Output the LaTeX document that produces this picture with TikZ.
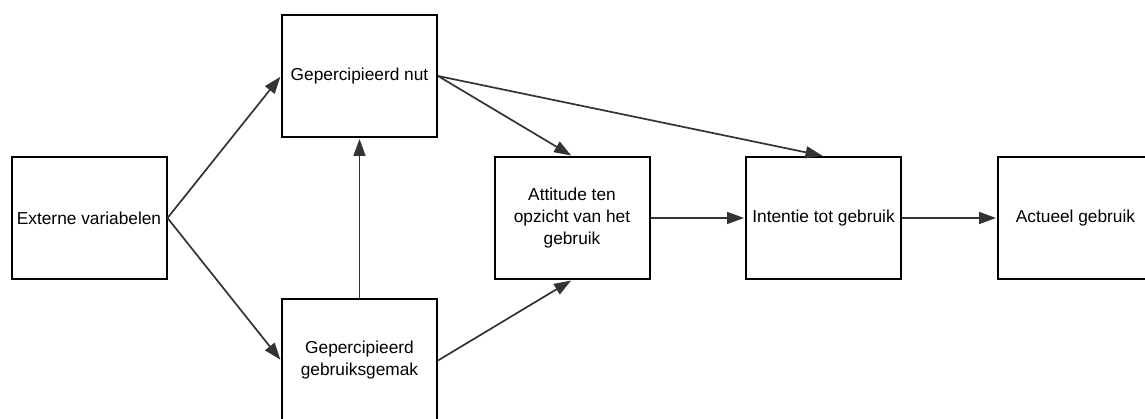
\documentclass[tikz,border=0pt]{standalone}
\usepackage{fontspec}
\setmainfont{Liberation Sans}
\usetikzlibrary{arrows.meta}
\definecolor{edge}{HTML}{333333}
\begin{document}
\begin{tikzpicture}[x=1pt,y=1pt,
  box/.style={draw=black, line width=2pt, fill=white, minimum width=155pt,
    minimum height=122pt, inner sep=0pt, align=center,
    font=\fontsize{17.3}{22}\selectfont},
  link/.style={draw=edge, line width=1.7pt, shorten >=1pt,
    -{Triangle[length=17pt,width=12pt]}}]
\useasboundingbox (0,0) rectangle (1145,419);
\clip (0,0) rectangle (1145,419);
\fill[white] (0,0) rectangle (1145,419);

\node[box] (ext) at (89,201) {Externe variabelen};
\node[box] (nut) at (359.5,343) {Gepercipieerd nut};
\node[box] (gem) at (359.5,58.5) {Gepercipieerd\\gebruiksgemak};
\node[box] (att) at (572,201) {Attitude ten\\opzicht van het\\gebruik};
\node[box] (int) at (823.5,201) {Intentie tot gebruik};
\node[box] (act) at (1075.5,201) {Actueel gebruik};

\draw[link] (ext.east) -- (nut.west);
\draw[link] (ext.east) -- (gem.west);
\draw[link] (gem.north) -- (nut.south);
\draw[link] (gem.east) -- (att.south);
\draw[link] (nut.east) -- (att.north);
\draw[link] (nut.east) -- (int.north);
\draw[link] (att.east) -- (int.west);
\draw[link] (int.east) -- (act.west);
\end{tikzpicture}
\end{document}
